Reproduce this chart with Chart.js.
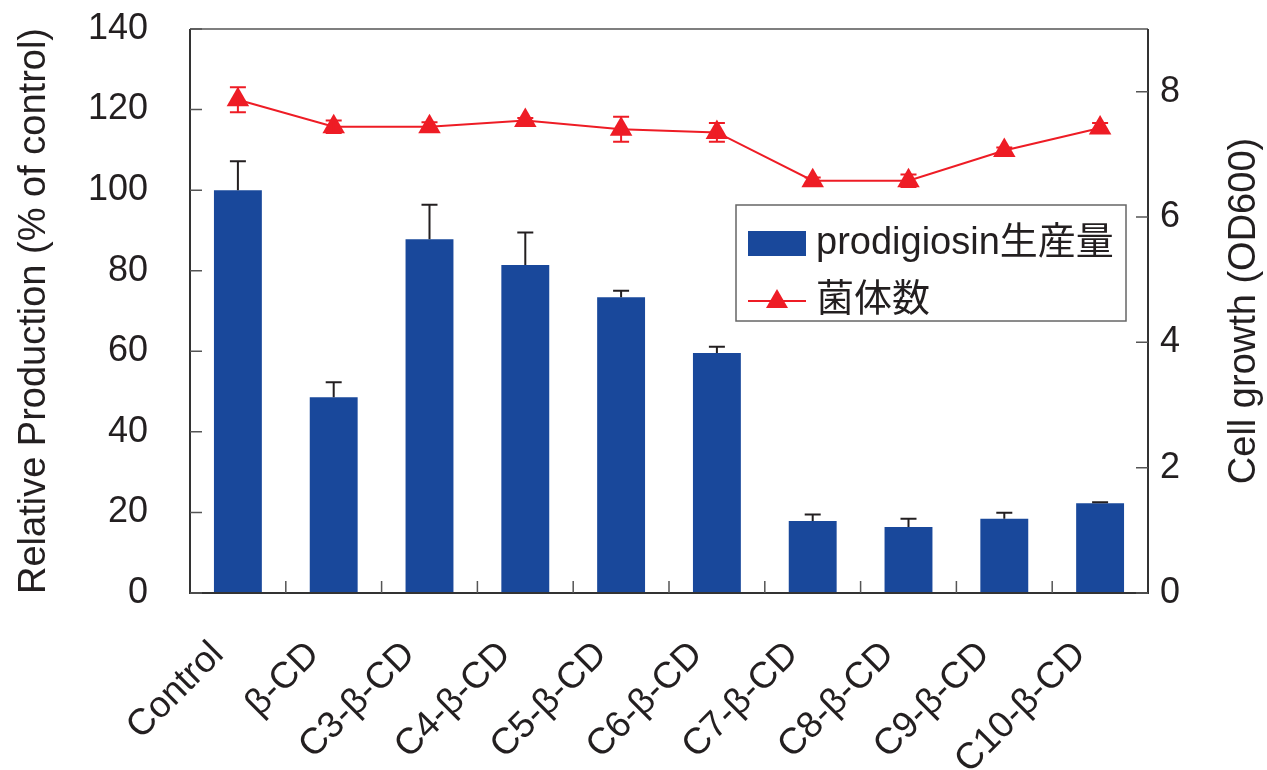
<!DOCTYPE html>
<html>
<head>
<meta charset="utf-8">
<title>Prodigiosin production and cell growth</title>
<script src="https://cdn.jsdelivr.net/npm/chart.js@4/dist/chart.umd.min.js"></script>
<style>
    html, body { margin: 0; padding: 0; background: #fff; }
    #chartBox { width: 1267px; height: 770px; }
</style>
</head>
<body>
<div id="chartBox"><canvas id="prodChart" width="1267" height="770"></canvas></div>
<script>
const categories = ['Control', 'β-CD', 'C3-β-CD', 'C4-β-CD', 'C5-β-CD', 'C6-β-CD', 'C7-β-CD', 'C8-β-CD', 'C9-β-CD', 'C10-β-CD'];
const production = [100, 48.6, 87.8, 81.4, 73.4, 59.6, 17.9, 16.4, 18.4, 22.3];
const productionErr = [7.2, 3.7, 8.6, 8.1, 1.6, 1.5, 1.6, 2.0, 1.5, 0.2];
const growth = [7.87, 7.44, 7.44, 7.54, 7.40, 7.35, 6.58, 6.58, 7.06, 7.42];
const growthErr = [0.2, 0.1, 0.07, 0.04, 0.2, 0.15, 0.05, 0.1, 0.05, 0.08];
const leftTicks = [0, 20, 40, 60, 80, 100, 120, 140];
const rightTicks = [0, 2, 4, 6, 8];

const FONT = '"Liberation Sans", Arial, "Noto Sans CJK JP", sans-serif';
const BLUE = '#19489b';
const RED = '#ee1c25';
const INK = '#231f20';

// keep the plot box exactly where the axis widths put it
function noScalePadding(scale) {
    scale.paddingTop = 0;
    scale.paddingBottom = 0;
    scale.paddingLeft = 0;
    scale.paddingRight = 0;
}

// error bars, frame with inward ticks, right-hand title and legend box
const extras = {
    id: 'extras',
    afterDatasetsDraw(chart) {
        const ctx = chart.ctx;
        const area = chart.chartArea;
        const x = chart.scales.x, yL = chart.scales.y, yR = chart.scales.y1;
        ctx.save();

        // error bars
        chart.data.datasets.forEach((ds, di) => {
            const meta = chart.getDatasetMeta(di);
            const scale = chart.scales[ds.yAxisID];
            ctx.strokeStyle = ds.errColor;
            ctx.lineWidth = 2;
            meta.data.forEach((el, i) => {
                const v = ds.data[i], e = ds.errors[i];
                const top = scale.getPixelForValue(v + e);
                const bot = ds.type === 'line' ? scale.getPixelForValue(v - e) : scale.getPixelForValue(v);
                ctx.beginPath();
                ctx.moveTo(el.x, top); ctx.lineTo(el.x, bot);
                ctx.moveTo(el.x - 8, top); ctx.lineTo(el.x + 8, top);
                if (ds.type === 'line') { ctx.moveTo(el.x - 8, bot); ctx.lineTo(el.x + 8, bot); }
                ctx.stroke();
            });
        });

        // frame
        ctx.strokeStyle = '#555';
        ctx.lineWidth = 1.5;
        ctx.beginPath();
        ctx.moveTo(area.left, area.top); ctx.lineTo(area.right, area.top);
        ctx.stroke();
        ctx.strokeStyle = '#333';
        ctx.lineWidth = 2;
        ctx.beginPath();
        ctx.moveTo(area.left, area.top); ctx.lineTo(area.left, area.bottom);
        ctx.lineTo(area.right, area.bottom); ctx.lineTo(area.right, area.top);
        ctx.stroke();

        // inward tick marks
        ctx.strokeStyle = '#555';
        ctx.lineWidth = 1.5;
        ctx.beginPath();
        yL.ticks.forEach(t => {
            const py = yL.getPixelForValue(t.value);
            ctx.moveTo(area.left, py); ctx.lineTo(area.left + 12, py);
        });
        yR.ticks.forEach(t => {
            const py = yR.getPixelForValue(t.value);
            ctx.moveTo(area.right, py); ctx.lineTo(area.right - 12, py);
        });
        for (let i = 0; i < categories.length - 1; i++) {
            const px = (x.getPixelForTick(i) + x.getPixelForTick(i + 1)) / 2;
            ctx.moveTo(px, area.bottom); ctx.lineTo(px, area.bottom - 12);
        }
        ctx.stroke();

        // right axis title, reading upward
        ctx.fillStyle = INK;
        ctx.font = '38px ' + FONT;
        ctx.textAlign = 'center';
        ctx.textBaseline = 'middle';
        ctx.translate(1245, (area.top + area.bottom) / 2);
        ctx.rotate(-Math.PI / 2);
        ctx.fillText('Cell growth (OD600)', 0, 0);
        ctx.setTransform(1, 0, 0, 1, 0, 0);

        // legend
        const bars = chart.data.datasets.find(d => d.type === 'bar');
        const line = chart.data.datasets.find(d => d.type === 'line');
        const bx = area.right - 412, by = area.top + 176;
        ctx.strokeStyle = '#666';
        ctx.lineWidth = 1.5;
        ctx.strokeRect(bx, by, 390, 116);
        ctx.fillStyle = BLUE;
        ctx.fillRect(bx + 12, by + 26, 58, 25);
        ctx.strokeStyle = RED;
        ctx.lineWidth = 2;
        ctx.beginPath();
        ctx.moveTo(bx + 12, by + 96); ctx.lineTo(bx + 70, by + 96);
        ctx.stroke();
        ctx.fillStyle = RED;
        ctx.beginPath();
        ctx.moveTo(bx + 41, by + 84);
        ctx.lineTo(bx + 52, by + 103);
        ctx.lineTo(bx + 30, by + 103);
        ctx.closePath();
        ctx.fill();
        ctx.fillStyle = INK;
        ctx.font = '38px ' + FONT;
        ctx.textAlign = 'left';
        ctx.textBaseline = 'middle';
        ctx.fillText(bars.label, bx + 80, by + 39);
        ctx.fillText(line.label, bx + 80, by + 96);

        ctx.restore();
    }
};

new Chart(document.getElementById('prodChart').getContext('2d'), {
    data: {
        labels: categories,
        datasets: [{
            type: 'line',
            label: '菌体数',
            data: growth,
            errors: growthErr,
            errColor: RED,
            yAxisID: 'y1',
            borderColor: RED,
            backgroundColor: RED,
            borderWidth: 2,
            pointStyle: 'triangle',
            pointRadius: 13,
            pointBorderWidth: 0,
            tension: 0,
            order: 0
        }, {
            type: 'bar',
            label: 'prodigiosin生産量',
            data: production,
            errors: productionErr,
            errColor: INK,
            yAxisID: 'y',
            backgroundColor: BLUE,
            barPercentage: 1,
            categoryPercentage: 0.5,
            order: 1
        }]
    },
    options: {
        responsive: false,
        animation: false,
        layout: { padding: { top: 29, left: 0, right: 0, bottom: 0 } },
        plugins: {
            legend: { display: false },
            tooltip: { enabled: false }
        },
        scales: {
            x: {
                offset: true,
                grid: { display: false, drawTicks: false },
                border: { display: false },
                ticks: {
                    color: INK,
                    font: { family: FONT, size: 37 },
                    maxRotation: 45,
                    minRotation: 45,
                    padding: 40,
                    labelOffset: -20
                },
                afterFit: function(scale) { noScalePadding(scale); scale.height = 177; }
            },
            y: {
                position: 'left',
                min: 0,
                max: 140,
                grid: { display: false, drawTicks: false },
                border: { display: false },
                ticks: {
                    stepSize: 20,
                    color: INK,
                    font: { family: FONT, size: 36 },
                    padding: 42
                },
                afterBuildTicks: function(scale) {
                    scale.ticks = leftTicks.map(v => ({ value: v }));
                },
                title: {
                    display: true,
                    text: 'Relative Production (% of control)',
                    color: INK,
                    font: { family: FONT, size: 38 },
                    padding: { top: 12, bottom: 0 }
                },
                afterFit: function(scale) { noScalePadding(scale); scale.width = 190; }
            },
            y1: {
                position: 'right',
                min: 0,
                max: 9,
                grid: { display: false, drawTicks: false },
                border: { display: false },
                ticks: {
                    stepSize: 2,
                    color: INK,
                    font: { family: FONT, size: 36 },
                    padding: 12
                },
                afterBuildTicks: function(scale) {
                    scale.ticks = rightTicks.map(v => ({ value: v }));
                },
                afterFit: function(scale) { noScalePadding(scale); scale.width = 119; }
            }
        }
    },
    plugins: [extras]
});
</script>
</body>
</html>
